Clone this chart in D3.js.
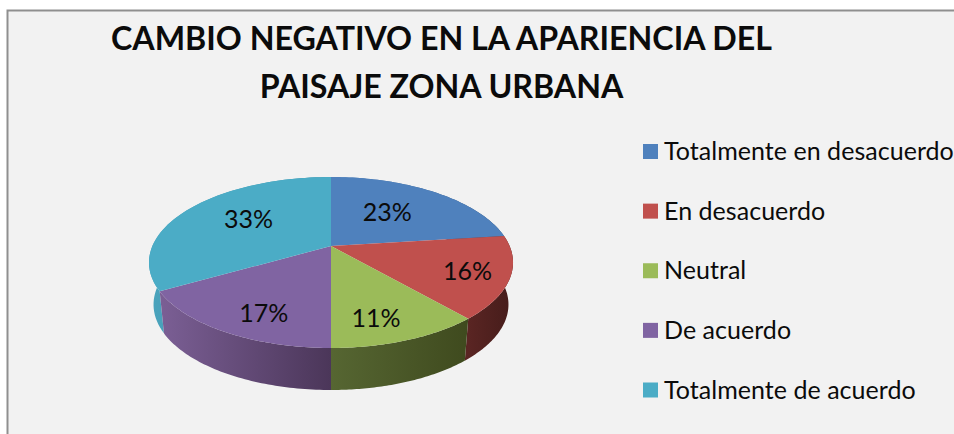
<!DOCTYPE html>
<html><head><meta charset="utf-8">
<script src="https://cdn.jsdelivr.net/npm/d3@7"></script>
<style>html,body{margin:0;padding:0;background:#fff;overflow:hidden}svg{display:block}text{font-family:Lato,"Open Sans",sans-serif;fill:#0b0b0b}</style>
</head><body><svg id="c" width="954" height="434"></svg>
<script>
const categories=["Totalmente en desacuerdo","En desacuerdo","Neutral","De acuerdo","Totalmente de acuerdo"];
const values=[23,15.6,11.4,16.7,33.3];
const colors=["#4f81bd","#c0504d","#9bbb59","#8064a2","#4bacc6"];
const wallStops=[["#4f81bd","#2f4d70"],["#5a2523","#451c1a"],["#566632","#3f4a1e"],["#7b5f95","#4b3659"],["#4aa3bc","#3a90a8"]];
const titleLines=["CAMBIO NEGATIVO EN LA APARIENCIA DEL","PAISAJE ZONA URBANA"];

const svg=d3.select("#c");
const defs=svg.append("defs");
svg.append("rect").attr("x",7.5).attr("y",10.5).attr("width",960).attr("height",440)
  .attr("fill","#f2f2f2").attr("stroke","#8f8f8f").attr("stroke-width",2);

// Perspective-projected disc
const cx=331,cy=246,Rx=178.6,Ry=82.3,k=0.193,depth=42,lowerShrink=0.975;
const proj=(a,f=1)=>{const u=Math.sin(a)*f,v=-Math.cos(a)*f,w=1-k*v;return [cx+Rx*u/w,cy+Ry*v/w];};
const projLow=(a)=>{const p=proj(a);return [cx+(p[0]-cx)*lowerShrink,p[1]+depth];};
const line=d3.line();
const samples=(a0,a1)=>d3.range(0,61).map(i=>a0+(a1-a0)*i/60);

const arcs=d3.pie().sort(null).value(d=>d)(values);

// Walls, back to front
const walls=arcs.map((d,i)=>({d,i})).sort((p,q)=>{
  const m=x=>Math.cos((x.d.startAngle+x.d.endAngle)/2);return m(q)-m(p);});
walls.forEach(({d,i})=>{
  const as=samples(d.startAngle,d.endAngle);
  const top=as.map(a=>proj(a)),low=as.map(a=>projLow(a)).reverse();
  const xs=top.map(p=>p[0]);
  const g=defs.append("linearGradient").attr("id","w"+i).attr("gradientUnits","userSpaceOnUse")
    .attr("x1",d3.min(xs)).attr("x2",d3.max(xs)).attr("y1",0).attr("y2",0);
  g.append("stop").attr("offset",0).attr("stop-color",wallStops[i][0]);
  g.append("stop").attr("offset",1).attr("stop-color",wallStops[i][1]);
  svg.append("path").attr("d",line(top.concat(low))+"Z").attr("fill",`url(#w${i})`);
});

// Top faces
svg.append("g").selectAll("path").data(arcs).join("path")
  .attr("d",d=>line([[cx,cy],...samples(d.startAngle,d.endAngle).map(a=>proj(a))])+"Z")
  .attr("fill",(d,i)=>colors[i]);

// Data labels
const labelNudge=[[-14,3],[23,5],[-1,15],[-2,15],[12,-2]];
svg.append("g").selectAll("text").data(arcs).join("text")
  .attr("x",(d,i)=>proj((d.startAngle+d.endAngle)/2,.65)[0]+labelNudge[i][0])
  .attr("y",(d,i)=>proj((d.startAngle+d.endAngle)/2,.65)[1]+labelNudge[i][1]+9)
  .attr("text-anchor","middle").attr("font-size",25)
  .text(d=>d3.format(".0%")(d.value/d3.sum(values)));

// Legend
const ly=d3.scalePoint().domain(categories).range([151.5,390]);
const lg=svg.append("g").selectAll("g").data(categories).join("g")
  .attr("transform",d=>`translate(643,${ly(d)})`);
lg.append("rect").attr("y",-7.5).attr("width",15).attr("height",15).attr("fill",(d,i)=>colors[i]);
lg.append("text").attr("x",21).attr("y",8.5).attr("font-size",25).attr("letter-spacing",0.04).text(d=>d);

// Title
svg.append("g").selectAll("text").data(titleLines).join("text")
  .attr("x",441.5).attr("y",(d,i)=>50+i*48).attr("text-anchor","middle")
  .attr("font-size",32.2).attr("font-weight",700).text(d=>d);
</script></body></html>
